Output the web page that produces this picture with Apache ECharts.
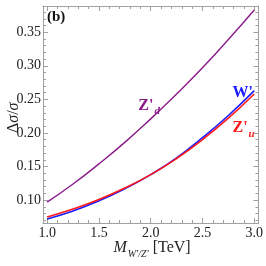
<!DOCTYPE html>
<html><head><meta charset="utf-8">
<script src="https://cdn.jsdelivr.net/npm/echarts@6/dist/echarts.min.js"></script>
<style>html,body{margin:0;padding:0;background:#fff}#c{width:266px;height:266px}</style>
</head><body><div id="c"></div>
<script>
const massTeV = [1.0, 1.25, 1.5, 1.75, 2.0, 2.25, 2.5, 2.75, 3.0];
const zdVals  = [0.097, 0.124, 0.154, 0.186, 0.221, 0.258, 0.297, 0.339, 0.383];
const wVals   = [0.072, 0.084, 0.099, 0.117, 0.138, 0.163, 0.193, 0.226, 0.263];
const zuVals  = [0.075, 0.087, 0.101, 0.118, 0.138, 0.162, 0.190, 0.222, 0.258];
const xTicks = [1.0, 1.5, 2.0, 2.5, 3.0];
const xMinor = [1.1,1.2,1.3,1.4,1.6,1.7,1.8,1.9,2.1,2.2,2.3,2.4,2.6,2.7,2.8,2.9];
const yTicks = [0.10, 0.15, 0.20, 0.25, 0.30, 0.35];
const yMinor = [0.07,0.08,0.09,0.11,0.12,0.13,0.14,0.16,0.17,0.18,0.19,0.21,0.22,0.23,0.24,0.26,0.27,0.28,0.29,0.31,0.32,0.33,0.34,0.36,0.37,0.38];

const FONT = '"Liberation Serif", "DejaVu Serif", serif';
const FRAME = '#a0a0a0';
const chart = echarts.init(document.getElementById('c'), null, {renderer:'canvas'});

function xAx(pos, ticks, len, labels, line) {
  return {type:'value', position:pos, min:0.96, max:3.04,
    axisLine:{show:line, onZero:false, lineStyle:{color:FRAME, width:1}},
    axisTick:{show:true, inside:true, length:len, customValues:ticks, lineStyle:{color:FRAME}},
    axisLabel:{show:labels, customValues:ticks, margin:3, color:'#222', fontFamily:FONT, fontSize:14,
      formatter:v=>v.toFixed(1)},
    splitLine:{show:false}};
}
function yAx(pos, ticks, len, labels, line) {
  return {type:'value', position:pos, min:0.066, max:0.389,
    axisLine:{show:line, onZero:false, lineStyle:{color:FRAME, width:1}},
    axisTick:{show:true, inside:true, length:len, customValues:ticks, lineStyle:{color:FRAME}},
    axisLabel:{show:labels, customValues:ticks, margin:2, color:'#222', fontFamily:FONT, fontSize:14,
      formatter:v=>v.toFixed(2)},
    splitLine:{show:false}};
}
const mk = (vals)=>massTeV.map((x,i)=>[x, vals[i]]);

chart.setOption({
  animation:false,
  backgroundColor:'#fff',
  grid:{left:43, top:6, width:219, height:217, containLabel:false},
  xAxis:[xAx('bottom', xTicks, 5, true, true), xAx('bottom', xMinor, 3, false, false),
         xAx('top', xTicks, 5, false, true), xAx('top', xMinor, 3, false, false)],
  yAxis:[yAx('left', yTicks, 5, true, true), yAx('left', yMinor, 3, false, false),
         yAx('right', yTicks, 5, false, true), yAx('right', yMinor, 3, false, false)],
  series:[
    {type:'line', name:"W'", data:mk(wVals), smooth:true, showSymbol:false, lineStyle:{color:'#1a1aff', width:1.6}, xAxisIndex:0, yAxisIndex:0},
    {type:'line', name:"Z'u", data:mk(zuVals), smooth:true, showSymbol:false, lineStyle:{color:'#ff1a1a', width:1.6}, xAxisIndex:0, yAxisIndex:0},
    {type:'line', name:"Z'd", data:mk(zdVals), smooth:true, showSymbol:false, lineStyle:{color:'#8a1a8a', width:1.4}, xAxisIndex:0, yAxisIndex:0}
  ]
});

const P = (x,y)=>chart.convertToPixel({xAxisIndex:0, yAxisIndex:0}, [x,y]);
function curveLabel(pt, main, sub, color) {
  return {type:'text', x:pt[0], y:pt[1], style:{
    text:'{m|'+main+'}{s|'+sub+'}',
    rich:{m:{fontFamily:FONT, fontSize:16, fontWeight:'bold', fill:color, lineHeight:17, verticalAlign:'top'},
          s:{fontFamily:FONT, fontSize:11, fontStyle:'italic', fontWeight:'bold', fill:color, lineHeight:11, padding:[8,0,0,1], verticalAlign:'top'}}
  }};
}
const pZd = P(1.88, 0.252), pW = P(2.79, 0.271), pZu = P(2.79, 0.219);
chart.setOption({graphic:[
  {type:'text', x:47, y:10, style:{text:'(b)', fontFamily:FONT, fontSize:15, fontWeight:'bold', fill:'#111'}},
  curveLabel(pZd, "Z'", 'd', '#8a1a8a'),
  {type:'text', x:pW[0], y:pW[1], style:{text:"W'", fontFamily:FONT, fontSize:16, fontWeight:'bold', fill:'#1a1aff'}},
  curveLabel(pZu, "Z'", 'u', '#ff1a1a'),
  {type:'text', x:6, y:133, rotation:Math.PI/2, style:{
    text:'{a|Δ}{b|σ}{a|/}{b|σ}',
    rich:{a:{fontFamily:FONT, fontSize:16, fill:'#222'}, b:{fontFamily:FONT, fontSize:16, fontStyle:'italic', fill:'#222'}}}},
  {type:'text', x:152, y:240, style:{
    text:'{m|M}{s|W\'/Z\'}{t| [TeV]}', align:'center',
    rich:{m:{fontFamily:FONT, fontSize:16, fontStyle:'italic', fill:'#222', lineHeight:18, verticalAlign:'top'},
          s:{fontFamily:FONT, fontSize:10, fontStyle:'italic', fill:'#222', lineHeight:10, padding:[9,0,0,1], verticalAlign:'top'},
          t:{fontFamily:FONT, fontSize:16, fill:'#222', lineHeight:18, verticalAlign:'top'}}}}
]});
</script></body></html>
